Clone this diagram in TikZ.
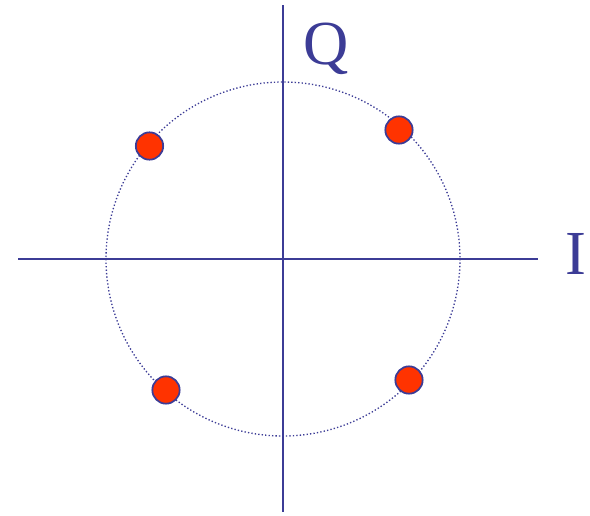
\documentclass[tikz,border=0pt]{standalone}
\usepackage{fontspec}
\setmainfont{Liberation Serif}
\definecolor{axisblue}{RGB}{60,60,150}
\definecolor{dotred}{RGB}{255,51,0}
\tikzset{
  axisline/.style={draw=axisblue, line width=1.5pt},
  ring/.style={draw=axisblue, line width=1pt, dash pattern=on 1pt off 1.6pt},
  symbol/.style={circle, fill=dotred, draw=axisblue, line width=1.3pt, minimum size=20.5pt, inner sep=0pt},
  axislabel/.style={text=axisblue, font=\fontsize{47}{50}\selectfont, inner sep=0pt}
}
\begin{document}
\begin{tikzpicture}[x=0.75pt, y=-0.75pt]
\useasboundingbox (0,0) rectangle (590,515);
\coordinate (o) at (283,259);
\coordinate (vtop) at (283,5);
\coordinate (vbot) at (283,512);
\coordinate (hl) at (18,259);
\coordinate (hr) at (538,259);
\draw[axisline] (vtop) -- (vbot);
\draw[axisline] (hl) -- (hr);
\draw[ring] (o) circle[radius=177];
\node[symbol] (s1) at (149.5,146) {};
\node[symbol] (s2) at (399,130) {};
\node[symbol] (s3) at (166,390) {};
\node[symbol] (s4) at (409,380) {};
\node[axislabel] (q) at (326,49) {Q};
\node[axislabel] (i) at (576,254) {I};
\end{tikzpicture}
\end{document}
